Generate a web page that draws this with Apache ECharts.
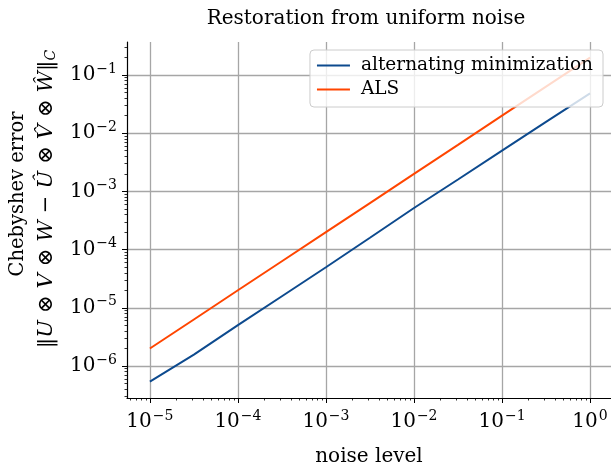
<!DOCTYPE html>
<html>
<head>
<meta charset="utf-8">
<script src="https://cdn.jsdelivr.net/npm/echarts@6/dist/echarts.min.js"></script>
<style>html,body{margin:0;padding:0;background:#fff}#c{width:611px;height:468px}</style>
</head>
<body>
<div id="c"></div>
<script>
// ---- data ----
const noiseLevels = [1e-5, 3.16e-5, 1e-4, 3.16e-4, 1e-3, 3.16e-3, 1e-2, 3.16e-2, 1e-1, 3.16e-1, 1];
const altMinError = [5.4e-7, 1.57e-6, 5.03e-6, 1.58e-5, 4.97e-5, 1.6e-4, 5.18e-4, 1.6e-3, 5.03e-3, 1.57e-2, 4.84e-2];
const alsError    = [2.0e-6, 6.3e-6, 2.0e-5, 6.3e-5, 2.0e-4, 6.3e-4, 2.0e-3, 6.3e-3, 2.0e-2, 6.3e-2, 0.199];
const seriesNames = ['alternating minimization', 'ALS'];
const xMajorTicks = [1e-5, 1e-4, 1e-3, 1e-2, 1e-1, 1];
const yMajorTicks = [1e-6, 1e-5, 1e-4, 1e-3, 1e-2, 1e-1];
const titleText = 'Restoration from uniform noise';
const xName = 'noise level';
const yNameLine1 = 'Chebyshev error';

// axis extents
const X_MIN = Math.pow(10, -5.26), X_MAX = Math.pow(10, 0.238);
const Y_MIN = Math.pow(10, -6.55), Y_MAX = Math.pow(10, -0.433);

function minors(lo, hi) {
  const out = [];
  for (let e = -8; e <= 1; e++) for (let k = 2; k <= 9; k++) {
    const v = k * Math.pow(10, e);
    if (v > lo && v < hi) out.push(v);
  }
  return out;
}

const FONT = 'DejaVu Serif';
const fmt = v => '{b|10}{s|' + String(Math.round(Math.log10(v))).replace('-', '\u2212') + '}';
const labelRich = {
  b: {fontFamily: FONT, fontSize: 20, color: '#000'},
  s: {fontFamily: FONT, fontSize: 14, color: '#000', padding: [0, 0, 12, 1]}
};

const chart = echarts.init(document.getElementById('c'), null, {renderer: 'canvas'});
const gridColor = '#a6a6a6';

const op = s => '{o|' + s + '}';
const it = s => '{i|' + s + '}';
const mathText = '{n|\u2016}' + it('U') + op('\u2297') + it('V') + op('\u2297') + it('W') + op('\u2212') +
  it('\u00DB') + op('\u2297') + it('V\u0302') + op('\u2297') + it('\u0174') + '{n|\u2016}{c|C}';

chart.setOption({
  animation: false,
  backgroundColor: '#fff',
  title: {
    text: titleText, left: 361, top: 4, textAlign: 'center',
    textStyle: {fontFamily: FONT, fontSize: 20, fontWeight: 'normal', color: '#000'}
  },
  grid: {left: 127, right: 0, top: 42, bottom: 70, containLabel: false, outerBoundsMode: 'none'},
  legend: {
    orient: 'vertical', right: 8, top: 50,
    data: seriesNames,
    icon: 'rect',
    itemWidth: 33, itemHeight: 2.2, itemGap: 5,
    padding: [6, 10, 8, 7],
    backgroundColor: 'rgba(255,255,255,0.8)',
    borderColor: '#cccccc', borderWidth: 1, borderRadius: 4,
    textStyle: {fontFamily: FONT, fontSize: 18.5, color: '#000', lineHeight: 19, padding: [0, 0, 0, 6]}
  },
  xAxis: [{
    type: 'log', logBase: 10, min: X_MIN, max: X_MAX,
    name: xName, nameLocation: 'middle', nameGap: 49,
    nameTextStyle: {fontFamily: FONT, fontSize: 20, color: '#000'},
    axisLine: {show: true, lineStyle: {color: '#000', width: 1.2}},
    axisTick: {show: true, inside: false, length: 5, customValues: xMajorTicks, lineStyle: {color: '#000', width: 1}},
    axisLabel: {customValues: xMajorTicks, formatter: fmt, rich: labelRich, margin: 11},
    splitLine: {show: true, lineStyle: {color: gridColor, width: 1.3}}
  }, {
    type: 'log', logBase: 10, min: X_MIN, max: X_MAX, gridIndex: 0, position: 'bottom',
    axisLine: {show: false},
    axisTick: {show: true, inside: false, length: 2.5, customValues: minors(X_MIN, X_MAX), lineStyle: {color: '#000', width: 0.8}},
    axisLabel: {show: false}, splitLine: {show: false}
  }],
  yAxis: [{
    type: 'log', logBase: 10, min: Y_MIN, max: Y_MAX,
    axisLine: {show: true, lineStyle: {color: '#000', width: 1.2}},
    axisTick: {show: true, inside: false, length: 5, customValues: yMajorTicks, lineStyle: {color: '#000', width: 1}},
    axisLabel: {customValues: yMajorTicks, formatter: fmt, rich: labelRich, margin: 10},
    splitLine: {show: true, lineStyle: {color: gridColor, width: 1.3}}
  }, {
    type: 'log', logBase: 10, min: Y_MIN, max: Y_MAX, gridIndex: 0, position: 'left',
    axisLine: {show: false},
    axisTick: {show: true, inside: false, length: 2.5, customValues: minors(Y_MIN, Y_MAX), lineStyle: {color: '#000', width: 0.8}},
    axisLabel: {show: false}, splitLine: {show: false}
  }],
  graphic: [{
    type: 'text', x: 18, y: 194, rotation: Math.PI / 2,
    style: {text: yNameLine1, font: '19.5px "' + FONT + '"', fill: '#000', align: 'center', verticalAlign: 'middle'}
  }, {
    type: 'text', x: 47, y: 199, rotation: Math.PI / 2,
    style: {
      text: mathText,
      align: 'center', verticalAlign: 'middle', fill: '#000',
      rich: {
        n: {fontFamily: FONT, fontSize: 21, fill: '#000'},
        o: {fontFamily: FONT, fontSize: 21, fill: '#000', padding: [0, 7, 0, 7]},
        i: {fontFamily: FONT, fontSize: 21, fontStyle: 'italic', fill: '#000'},
        c: {fontFamily: FONT, fontSize: 14, fontStyle: 'italic', fill: '#000', padding: [8, 0, 0, 0]}
      }
    }
  }],
  series: [{
    name: seriesNames[0], type: 'line', xAxisIndex: 0, yAxisIndex: 0,
    showSymbol: false, symbol: 'none',
    data: noiseLevels.map((x, i) => [x, altMinError[i]]),
    lineStyle: {color: '#0d4a8e', width: 2}, itemStyle: {color: '#0d4a8e'}
  }, {
    name: seriesNames[1], type: 'line', xAxisIndex: 0, yAxisIndex: 0,
    showSymbol: false, symbol: 'none',
    data: noiseLevels.map((x, i) => [x, alsError[i]]),
    lineStyle: {color: '#ff4500', width: 2}, itemStyle: {color: '#ff4500'}
  }]
});
</script>
</body>
</html>
